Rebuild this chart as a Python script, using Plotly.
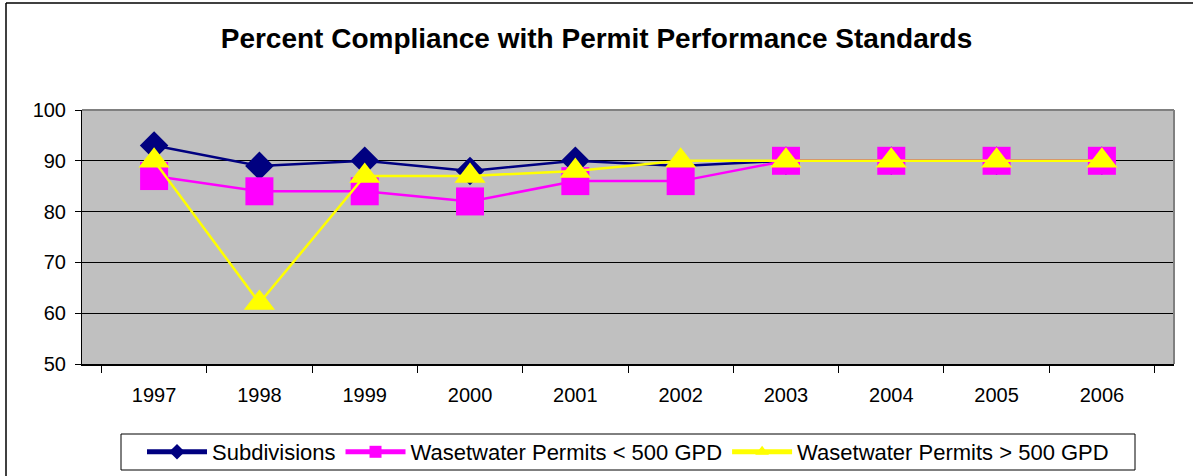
import plotly.graph_objects as go

years = ["1997", "1998", "1999", "2000", "2001", "2002", "2003", "2004", "2005", "2006"]
subdivisions = [93, 89, 90, 88, 90, 89, 90, 90, 90, 90]
permits_lt_500 = [87, 84, 84, 82, 86, 86, 90, 90, 90, 90]
permits_gt_500 = [90, 62, 87, 87, 88, 90, 90, 90, 90, 90]
y_ticks = [50, 60, 70, 80, 90, 100]

W, H = 1193, 476
ML, MR, MT, MB = 82, 19, 110, 112
pw, ph = W - ML - MR, H - MT - MB


def px(x):
    return (x - ML) / pw


def py(y):
    return (H - MB - y) / ph


fig = go.Figure()
fig.add_trace(go.Scatter(
    x=years, y=subdivisions, name="Subdivisions", mode="lines+markers",
    line=dict(color="#000080", width=2.5),
    marker=dict(symbol="diamond", size=22, color="#000080"),
))
fig.add_trace(go.Scatter(
    x=years, y=permits_lt_500, name="Wasetwater Permits < 500 GPD", mode="lines+markers",
    line=dict(color="#FF00FF", width=2.5),
    marker=dict(symbol="square", size=28, color="#FF00FF"),
))
fig.add_trace(go.Scatter(
    x=years, y=permits_gt_500, name="Wasetwater Permits > 500 GPD", mode="lines+markers",
    line=dict(color="#FFFF00", width=2.5),
    marker=dict(symbol="triangle-up", size=27, color="#FFFF00"),
))

font = "Arial, Liberation Sans, sans-serif"
fig.update_layout(
    width=W, height=H,
    margin=dict(l=ML, r=MR, t=MT, b=MB, autoexpand=False),
    paper_bgcolor="white",
    plot_bgcolor="#C0C0C0",
    font=dict(family=font, color="black", size=19),
    title=dict(
        text="<b>Percent Compliance with Permit Performance Standards</b>",
        x=0.5, xanchor="center", y=1 - 38 / H, yanchor="middle",
        font=dict(size=28, family=font, color="black"),
    ),
    showlegend=True,
    legend=dict(
        orientation="h", x=0.5, xanchor="center", y=py(452), yanchor="middle",
        borderwidth=0, bgcolor="rgba(0,0,0,0)",
        font=dict(size=22, family=font),
        itemsizing="constant", itemwidth=60, tracegroupgap=0,
    ),
    xaxis=dict(
        type="category", tickson="boundaries", ticks="outside", ticklen=7,
        tickcolor="black", showline=True, linecolor="black", linewidth=1.5,
        showgrid=False, zeroline=False, tickfont=dict(size=20),
        ticklabelstandoff=12,
    ),
    yaxis=dict(
        range=[50, 100], tickvals=y_ticks, ticks="outside", ticklen=6,
        tickcolor="black", showline=True, linecolor="black", linewidth=1,
        showgrid=True, gridcolor="black", gridwidth=1, zeroline=False,
        tickfont=dict(size=20), ticklabelstandoff=5,
    ),
    shapes=[
        dict(type="line", xref="paper", yref="paper", x0=0, x1=1, y0=1, y1=1,
             line=dict(color="#808080", width=2)),
        dict(type="line", xref="paper", yref="paper", x0=1, x1=1, y0=0, y1=1,
             line=dict(color="#808080", width=2)),
        dict(type="line", xref="paper", yref="paper", x0=px(6), x1=px(W + 5),
             y0=py(3), y1=py(3), line=dict(color="black", width=1.5)),
        dict(type="line", xref="paper", yref="paper", x0=px(6), x1=px(6),
             y0=py(3), y1=py(H + 5), line=dict(color="black", width=1.5)),
        dict(type="rect", xref="paper", yref="paper", x0=px(121), x1=px(1135),
             y0=py(434), y1=py(470), line=dict(color="black", width=1),
             fillcolor="rgba(0,0,0,0)"),
    ],
)

fig.write_html(
    "out.html",
    config={"displayModeBar": False},
    post_script="document.body.style.margin='0';document.body.style.overflow='hidden';",
)
